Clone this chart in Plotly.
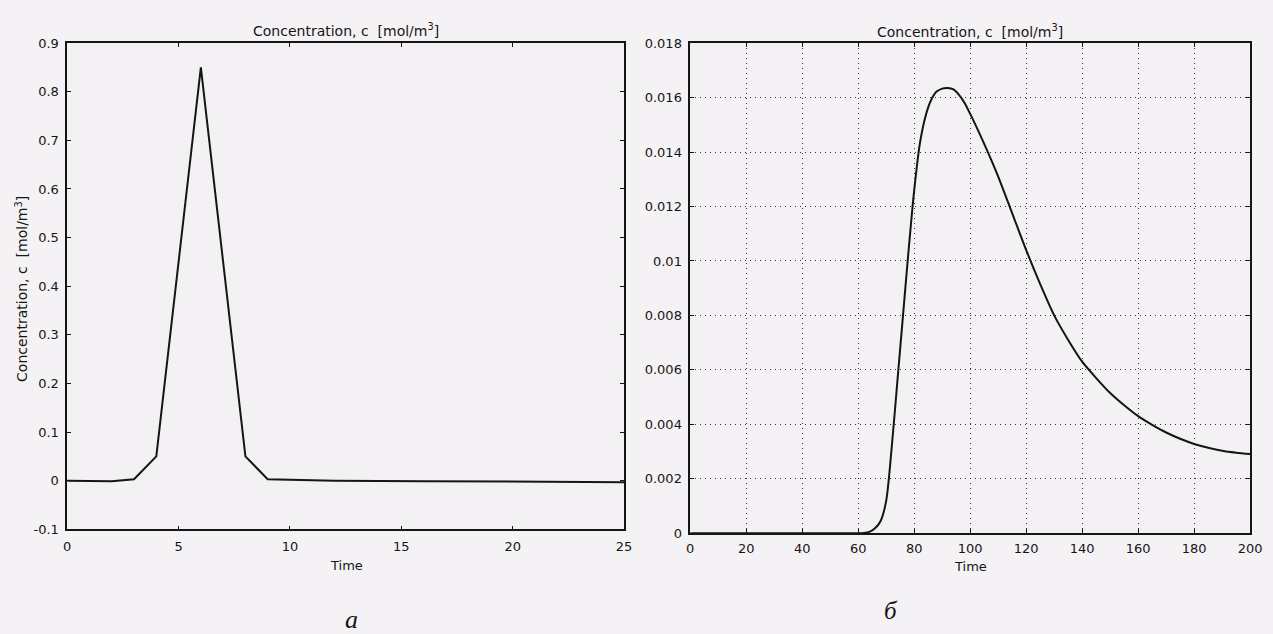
import plotly.graph_objects as go

# ---- data: panel (a) ----
time_a = [0, 2, 3, 4, 6, 8, 9, 12, 16, 20, 25]
conc_a = [0.0, -0.001, 0.003, 0.05, 0.85, 0.05, 0.003, 0.0, -0.001, -0.002, -0.003]
yticks_a = [-0.1, 0, 0.1, 0.2, 0.3, 0.4, 0.5, 0.6, 0.7, 0.8, 0.9]
yticklabels_a = ["-0.1", "0", "0.1", "0.2", "0.3", "0.4", "0.5", "0.6", "0.7", "0.8", "0.9"]
xticks_a = [0, 5, 10, 15, 20, 25]

# ---- data: panel (b) ----
time_b = [0, 20, 40, 55, 60, 62, 64, 66, 68, 70, 72, 74, 76, 78, 80, 82, 84, 86, 88, 90,
          92, 94, 96, 98, 100, 105, 110, 115, 120, 125, 130, 135, 140, 145, 150, 155,
          160, 165, 170, 175, 180, 185, 190, 195, 200]
conc_b = [0, 0, 0, 0, 0, 0.00001, 0.00005, 0.00018, 0.00045, 0.0012, 0.0032, 0.0056,
          0.0080, 0.0104, 0.0126, 0.0143, 0.0153, 0.0159, 0.01622, 0.01633,
          0.01635, 0.0163, 0.0161, 0.0158, 0.0154, 0.0143, 0.0131, 0.01175, 0.0104,
          0.00915, 0.0080, 0.0071, 0.0063, 0.0057, 0.00515, 0.0047,
          0.0043, 0.00398, 0.0037, 0.00347, 0.00328, 0.00314, 0.00303, 0.00296, 0.00291]
yticks_b = [0, 0.002, 0.004, 0.006, 0.008, 0.01, 0.012, 0.014, 0.016, 0.018]
yticklabels_b = ["0", "0.002", "0.004", "0.006", "0.008", "0.01", "0.012", "0.014", "0.016", "0.018"]
xticks_b = [0, 20, 40, 60, 80, 100, 120, 140, 160, 180, 200]

title_text = "Concentration, c  [mol/m<sup>3</sup>]"
FONT = "DejaVu Sans"
INK = "#151515"
W, H = 1273, 634

fig = go.Figure()
fig.add_trace(go.Scatter(x=time_a, y=conc_a, mode="lines", xaxis="x", yaxis="y",
                         line=dict(color=INK, width=2), showlegend=False))
fig.add_trace(go.Scatter(x=time_b, y=conc_b, mode="lines", xaxis="x2", yaxis="y2",
                         line=dict(color=INK, width=2, shape="spline", smoothing=0.8),
                         showlegend=False))

tickfont = dict(family=FONT, size=13, color=INK)
common = dict(showline=True, linecolor=INK, linewidth=1.5, mirror="ticks",
              ticks="inside", ticklen=4, tickcolor=INK, zeroline=False,
              tickfont=tickfont)

fig.update_layout(
    width=W, height=H,
    margin=dict(l=0, r=0, t=0, b=0),
    paper_bgcolor="#f5f2f5", plot_bgcolor="#f3f1f3",
    xaxis=dict(domain=[64 / W, 628 / W], range=[0, 25], tickvals=xticks_a,
               showgrid=False, anchor="y", ticklabelstandoff=4, **common),
    yaxis=dict(domain=[1 - 535 / H, 1 - 37 / H], range=[-0.1, 0.9], tickvals=yticks_a,
               ticktext=yticklabels_a, showgrid=False, anchor="x", ticklabelstandoff=4, **common),
    xaxis2=dict(domain=[695 / W, 1262 / W], range=[0, 200], tickvals=xticks_b,
                showgrid=True, gridcolor="#333", gridwidth=1, griddash="1px,4px",
                anchor="y2", ticklabelstandoff=2, **common),
    yaxis2=dict(domain=[1 - 539 / H, 1 - 37 / H], range=[0, 0.018], tickvals=yticks_b,
                ticktext=yticklabels_b, showgrid=True, gridcolor="#333", gridwidth=1,
                griddash="1px,4px", anchor="x2", ticklabelstandoff=4, **common),
)

lab = dict(family=FONT, size=14, color=INK)
ann = [
    dict(text=title_text, x=346 / W, y=1 - 24 / H, font=lab),
    dict(text=title_text, x=978 / W, y=1 - 25 / H, font=lab),
    dict(text=title_text, x=18 / W, y=1 - 289 / H, textangle=-90, font=lab),
    dict(text="Time", x=347 / W, y=1 - 572 / H, font=dict(family=FONT, size=13, color=INK)),
    dict(text="Time", x=979 / W, y=1 - 573 / H, font=dict(family=FONT, size=13, color=INK)),
    dict(text="а", x=352 / W, y=1 - 627 / H,
         font=dict(family="Liberation Serif", size=26, color=INK, style="italic")),
    dict(text="б", x=898 / W, y=1 - 618 / H,
         font=dict(family="Liberation Serif", size=25, color=INK, style="italic")),
]
for a in ann:
    a.update(xref="paper", yref="paper", showarrow=False, xanchor="center", yanchor="middle")
fig.update_layout(annotations=ann)

fig.write_html("out.html",
               config={"displayModeBar": False},
               post_script="document.body.style.margin='0px';"
                           "document.body.style.overflow='hidden';")
